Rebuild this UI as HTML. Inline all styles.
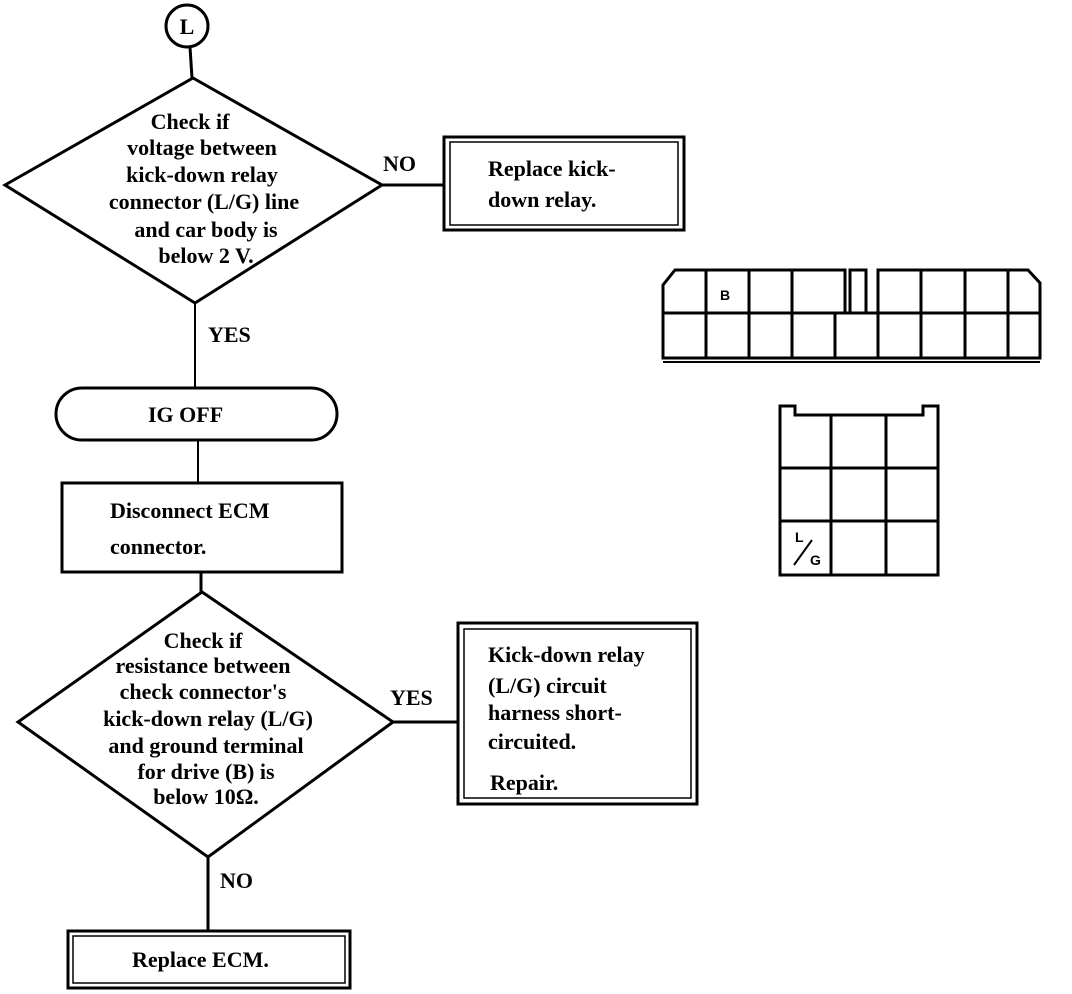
<!DOCTYPE html>
<html><head><meta charset="utf-8"><style>
html,body{margin:0;padding:0;background:#fff;}
svg{display:block;}
text{font-family:"Liberation Serif",serif;font-weight:bold;font-size:22px;fill:#000;}
.s{font-family:"Liberation Sans",sans-serif;font-size:14px;}
</style></head><body>
<svg width="1072" height="994" viewBox="0 0 1072 994" xmlns="http://www.w3.org/2000/svg">
<g fill="none" stroke="#000" stroke-width="3">
<circle cx="187" cy="26" r="21"/>
<line x1="190" y1="47" x2="192" y2="78"/>
<polygon points="193,78 382,185 195,303 5,185"/>
<line x1="382" y1="185" x2="444" y2="185"/>
<rect x="444" y="137" width="240" height="93"/>
<rect x="450" y="142" width="228" height="83" stroke-width="1.5"/>
<line x1="195" y1="303" x2="195" y2="388" stroke-width="2"/>
<rect x="56" y="388" width="281" height="52" rx="26"/>
<line x1="198" y1="440" x2="198" y2="483" stroke-width="2"/>
<rect x="62" y="483" width="280" height="89"/>
<line x1="201" y1="572" x2="201" y2="592"/>
<polygon points="202,592 393,722 208,857 18,722"/>
<line x1="393" y1="722" x2="458" y2="722"/>
<rect x="458" y="623" width="239" height="181"/>
<rect x="464" y="629" width="227" height="169" stroke-width="1.5"/>
<line x1="208" y1="857" x2="208" y2="931"/>
<rect x="68" y="931" width="282" height="57"/>
<rect x="73" y="936" width="272" height="47" stroke-width="1.5"/>
<!-- top connector -->
<path d="M845,313 L845,270 L675,270 L663,285 L663,358 L1040,358 L1040,283 L1028,270 L878,270 L878,313"/>
<path d="M850,313 L850,270 L866,270 L866,313"/>
<line x1="663" y1="313" x2="1040" y2="313"/>
<line x1="663" y1="362" x2="1040" y2="362" stroke-width="2"/>
<line x1="706" y1="270" x2="706" y2="358"/>
<line x1="749" y1="270" x2="749" y2="358"/>
<line x1="792" y1="270" x2="792" y2="358"/>
<line x1="835" y1="313" x2="835" y2="358"/>
<line x1="878" y1="313" x2="878" y2="358"/>
<line x1="921" y1="270" x2="921" y2="358"/>
<line x1="965" y1="270" x2="965" y2="358"/>
<line x1="1008" y1="270" x2="1008" y2="358"/>
<!-- bottom connector -->
<path d="M780,575 L780,406 L795,406 L795,415 L923,415 L923,406 L938,406 L938,575 Z"/>
<line x1="780" y1="468" x2="938" y2="468"/>
<line x1="780" y1="521" x2="938" y2="521"/>
<line x1="831" y1="415" x2="831" y2="575"/>
<line x1="886" y1="415" x2="886" y2="575"/>
<line x1="794" y1="565" x2="812" y2="540" stroke-width="2"/>
</g>
<text x="187" y="34" text-anchor="middle">L</text>
<g text-anchor="middle">
<text x="190" y="129">Check if</text>
<text x="202" y="155">voltage between</text>
<text x="202" y="182">kick-down relay</text>
<text x="204" y="209">connector (L/G) line</text>
<text x="206" y="237">and car body is</text>
<text x="206" y="263">below 2 V.</text>
</g>
<text x="383" y="171">NO</text>
<text x="488" y="176">Replace kick-</text>
<text x="488" y="207">down relay.</text>
<text x="208" y="342">YES</text>
<text x="148" y="422">IG OFF</text>
<text x="110" y="518">Disconnect ECM</text>
<text x="110" y="554">connector.</text>
<g text-anchor="middle">
<text x="203" y="648">Check if</text>
<text x="203" y="673">resistance between</text>
<text x="203" y="699">check connector's</text>
<text x="208" y="726">kick-down relay (L/G)</text>
<text x="206" y="753">and ground terminal</text>
<text x="206" y="779">for drive (B) is</text>
<text x="206" y="804">below 10Ω.</text>
</g>
<text x="390" y="705">YES</text>
<text x="488" y="662">Kick-down relay</text>
<text x="488" y="693">(L/G) circuit</text>
<text x="488" y="720">harness short-</text>
<text x="488" y="749">circuited.</text>
<text x="490" y="790">Repair.</text>
<text x="220" y="888">NO</text>
<text x="132" y="967">Replace ECM.</text>
<text class="s" x="720" y="300">B</text>
<text class="s" x="795" y="542">L</text>
<text class="s" x="810" y="565">G</text>
</svg>
</body></html>
